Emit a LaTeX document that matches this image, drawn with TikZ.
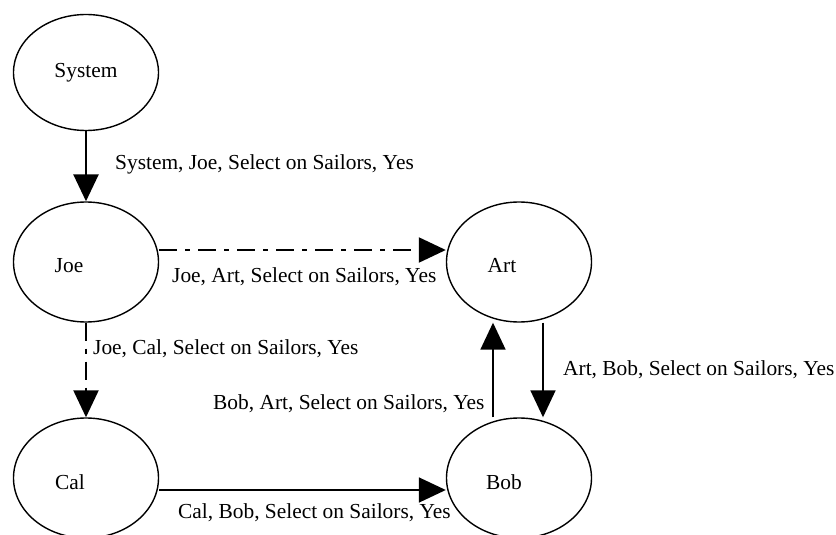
\documentclass[tikz,border=0pt]{standalone}
\usepackage{fontspec}
\setmainfont{Liberation Serif}
\usetikzlibrary{shapes.geometric,arrows.meta}

\tikzset{
  state/.style={ellipse,draw,line width=1.4pt,minimum width=145pt,minimum height=120pt,inner sep=0pt},
  msg/.style={-{Triangle[width=25pt,length=27pt]},line width=1.8pt},
  dashdotline/.style={line width=2.2pt,dash pattern=on 18pt off 8pt on 5pt off 8pt},
  lbl/.style={anchor=west,inner sep=0pt},
}

\begin{document}
\begin{tikzpicture}[x=1pt,y=-1pt,font=\fontsize{21.4}{25}\selectfont]
\clip (0,0) rectangle (836,535);

\node[state,minimum height=116pt] (system) at (86,72.5) {System};
\node[state,label={[xshift=-17pt,yshift=-4pt]center:Joe}] (joe) at (86,262) {};
\node[state,label={[xshift=-17pt,yshift=-4pt]center:Art}] (art) at (519,262) {};
\node[state,label={[xshift=-16pt,yshift=-4pt]center:Cal}] (cal) at (86,478) {};
\node[state,label={[xshift=-15pt,yshift=-4pt]center:Bob}] (bob) at (519,478) {};

\draw[msg,line width=2.6pt] (system.south) -- (joe.north);
\draw[msg,dashdotline] ([yshift=12pt]joe.east) -- ([yshift=12pt]art.west);
\draw[msg,dashdotline] (joe.south) -- (cal.north);
\draw[msg] ([yshift=-12pt]cal.east) -- ([yshift=-12pt]bob.west);
\draw[msg] ([xshift=24pt]art.south) -- ([xshift=24pt]bob.north);
\draw[msg] ([xshift=-26pt]bob.north) -- ([xshift=-26pt]art.south);

\node[lbl] (sysjoe) at (115,164) {System, Joe, Select on Sailors, Yes};
\node[lbl] (joeart) at (172,277) {Joe, Art, Select on Sailors, Yes};
\node[lbl] (joecal) at (93,349) {Joe, Cal, Select on Sailors, Yes};
\node[lbl] (bobart) at (213,404) {Bob, Art, Select on Sailors, Yes};
\node[lbl] (artbob) at (563,370) {Art, Bob, Select on Sailors, Yes};
\node[lbl] (calbob) at (178,513) {Cal, Bob, Select on Sailors, Yes};

\end{tikzpicture}
\end{document}
